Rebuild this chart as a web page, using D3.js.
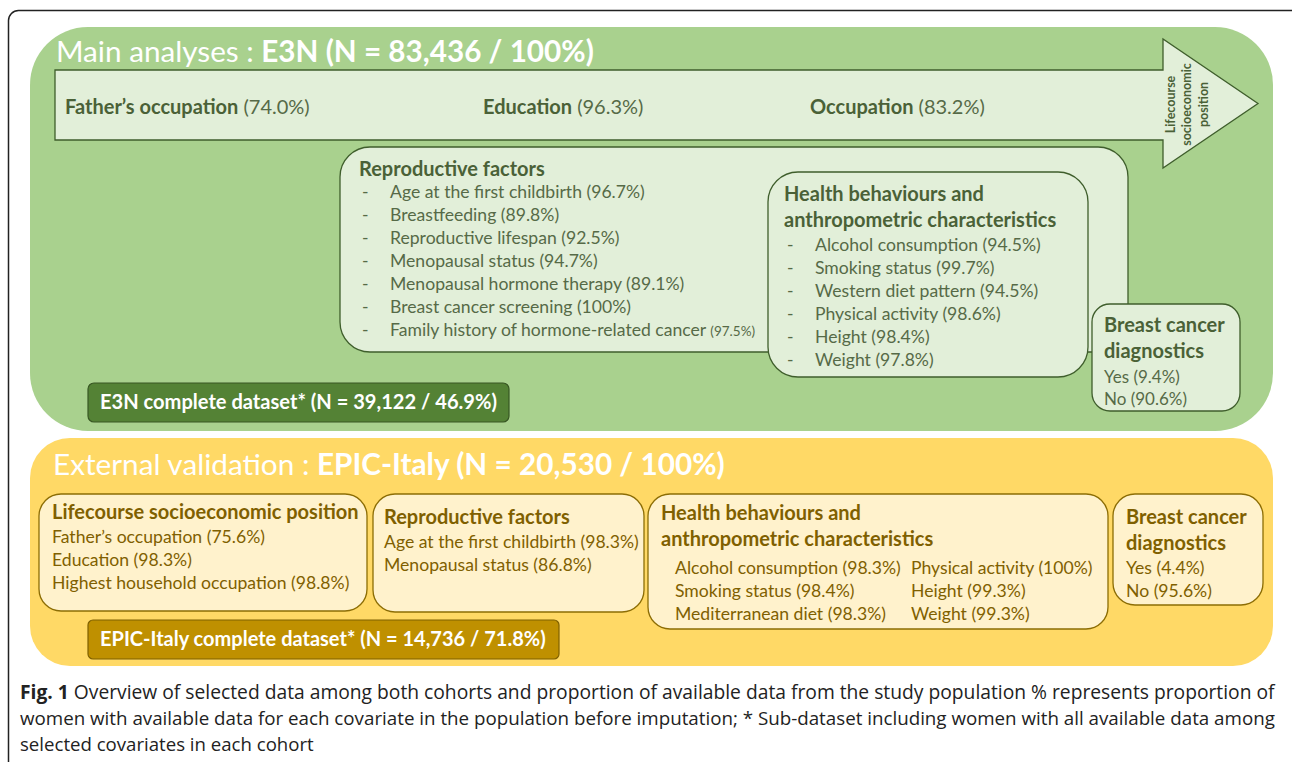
<!DOCTYPE html>
<html><head><meta charset="utf-8">
<script src="https://cdn.jsdelivr.net/npm/d3@7"></script>
<style>body{margin:0;background:#fff}svg{display:block}</style>
</head><body>
<script>
// ---------- DATA ----------
const e3nTitle = ["Main analyses : ", "E3N (N = 83,436 / 100%)"];
const e3nSepLabels = ["Father’s occupation", "Education", "Occupation"];
const e3nSepValues = [74.0, 96.3, 83.2];
const arrowLabel = ["Lifecourse", "socioeconomic", "position"];
const e3nReproLabels = ["Age at the first childbirth", "Breastfeeding", "Reproductive lifespan", "Menopausal status", "Menopausal hormone therapy", "Breast cancer screening", "Family history of hormone-related cancer"];
const e3nReproValues = [96.7, 89.8, 92.5, 94.7, 89.1, 100, 97.5];
const e3nHealthLabels = ["Alcohol consumption", "Smoking status", "Western diet pattern", "Physical activity", "Height", "Weight"];
const e3nHealthValues = [94.5, 99.7, 94.5, 98.6, 98.4, 97.8];
const diagLabels = ["Yes", "No"];
const e3nDiagValues = [9.4, 90.6];
const e3nComplete = "E3N complete dataset* (N = 39,122 / 46.9%)";

const itTitle = ["External validation : ", "EPIC-Italy (N = 20,530 / 100%)"];
const itSepLabels = ["Father’s occupation", "Education", "Highest household occupation"];
const itSepValues = [75.6, 98.3, 98.8];
const itReproLabels = ["Age at the first childbirth", "Menopausal status"];
const itReproValues = [98.3, 86.8];
const itHealthLabels = ["Alcohol consumption", "Smoking status", "Mediterranean diet", "Physical activity", "Height", "Weight"];
const itHealthValues = [98.3, 98.4, 98.3, 100, 99.3, 99.3];
const itDiagValues = [4.4, 95.6];
const itComplete = "EPIC-Italy complete dataset* (N = 14,736 / 71.8%)";

const captionBold = "Fig. 1";
const captionLines = [
  " Overview of selected data among both cohorts and proportion of available data from the study population % represents proportion of",
  "women with available data for each covariate in the population before imputation; * Sub-dataset including women with all available data among",
  "selected covariates in each cohort"
];

// ---------- HELPERS ----------
const pct = v => "(" + (v === 100 ? "100" : d3.format(".1f")(v)) + "%)";
const FONT = "Lato, 'Open Sans', sans-serif";
const W = 1292, H = 762;
const svg = d3.select("body").append("svg").attr("width", W).attr("height", H)
  .style("font-family", FONT);

const G = {panel:"#A9D18E", box:"#E2EFD9", line:"#3F5E2C", text:"#4A6137", item:"#566A47", dark:"#548235"};
const Y = {panel:"#FFD966", box:"#FFF2CC", line:"#8C6D05", text:"#7F6000", item:"#7F6000", dark:"#BF9000"};
const TS = 20, IS = 17.6;

function fit(t, w) {
  const len = t.node().getComputedTextLength();
  const fs = parseFloat(t.attr("font-size"));
  t.attr("font-size", fs * w / len);
}
function box(x, y, w, h, r, c) {
  svg.append("rect").attr("x", x).attr("y", y).attr("width", w).attr("height", h)
    .attr("rx", r).attr("ry", r).attr("fill", c.box).attr("stroke", c.line).attr("stroke-width", 1.3);
}
function txt(x, y, s, size, color, weight) {
  return svg.append("text").attr("x", x).attr("y", y).attr("font-size", size)
    .attr("fill", color).attr("font-weight", weight || 400).text(s);
}

// outer frame
svg.append("rect").attr("x", 8.5).attr("y", 10.5).attr("width", 1300).attr("height", 800)
  .attr("rx", 10).attr("fill", "#fff").attr("stroke", "#222").attr("stroke-width", 1.5);

// ---------- E3N PANEL ----------
svg.append("rect").attr("x", 30).attr("y", 27).attr("width", 1243).attr("height", 404)
  .attr("rx", 58).attr("fill", G.panel);

const t1 = svg.append("text").attr("x", 56).attr("y", 62).attr("font-size", 30).attr("fill", "#fff");
t1.append("tspan").text(e3nTitle[0]);
t1.append("tspan").attr("font-weight", 700).text(e3nTitle[1]);
fit(t1, 538);

// arrow
const ax0 = 55, ax1 = 1163, ay0 = 70, ay1 = 140, ahTop = 39, ahBot = 168, tip = 1258;
svg.append("path")
  .attr("d", d3.line()([[ax0, ay0], [ax1, ay0], [ax1, ahTop], [tip, (ahTop + ahBot) / 2], [ax1, ahBot], [ax1, ay1], [ax0, ay1]]) + "Z")
  .attr("fill", G.box).attr("stroke", G.line).attr("stroke-width", 1.3);
const sepX = [65, 483, 810];
e3nSepLabels.forEach((l, i) => {
  const t = svg.append("text").attr("x", sepX[i]).attr("y", 114).attr("font-size", 20).attr("fill", G.text);
  t.append("tspan").attr("font-weight", 700).text(l);
  t.append("tspan").attr("fill", G.item).text(" " + pct(e3nSepValues[i]));
});
const al = svg.append("text").attr("transform", "translate(1187,104.5) rotate(-90)")
  .attr("text-anchor", "middle").attr("font-size", 12.5).attr("font-weight", 700).attr("fill", G.text);
arrowLabel.forEach((l, i) => al.append("tspan").attr("x", 0).attr("y", (i - 1) * 16.5 + 4.3).text(l));

// reproductive box
box(340, 147, 788, 205, 30, G);
txt(359, 176, "Reproductive factors", TS, G.text, 700);
const ly = d3.scaleLinear().domain([0, 1]).range([198, 221]);
e3nReproLabels.forEach((l, i) => {
  txt(362, ly(i), "-", IS, G.item);
  const t = svg.append("text").attr("x", 390).attr("y", ly(i)).attr("font-size", IS).attr("fill", G.item);
  t.append("tspan").text(l + " ");
  t.append("tspan").attr("font-size", i === e3nReproLabels.length - 1 ? 13.5 : IS).text(pct(e3nReproValues[i]));
});

// health box
box(768, 172, 320, 205, 30, G);
txt(784, 201, "Health behaviours and", TS, G.text, 700);
txt(784, 227, "anthropometric characteristics", TS, G.text, 700);
const hy = d3.scaleLinear().domain([0, 1]).range([251, 274]);
e3nHealthLabels.forEach((l, i) => {
  txt(787, hy(i), "-", IS, G.item);
  txt(815, hy(i), l + " " + pct(e3nHealthValues[i]), IS, G.item);
});

// diagnostics box
box(1092, 304, 148, 107, 18, G);
txt(1104, 332, "Breast cancer", TS, G.text, 700);
txt(1104, 358, "diagnostics", TS, G.text, 700);
diagLabels.forEach((l, i) => txt(1104, 383 + i * 22, l + " " + pct(e3nDiagValues[i]), 17, G.item));

// complete button
svg.append("rect").attr("x", 88).attr("y", 383).attr("width", 421).attr("height", 39).attr("rx", 6)
  .attr("fill", G.dark).attr("stroke", "#385723").attr("stroke-width", 1.2);
const b1 = txt(100, 409, e3nComplete, 16.5, "#fff", 700);
fit(b1, 397);

// ---------- EPIC-ITALY PANEL ----------
svg.append("rect").attr("x", 30).attr("y", 438).attr("width", 1243).attr("height", 228)
  .attr("rx", 40).attr("fill", Y.panel);
const t2 = svg.append("text").attr("x", 53).attr("y", 475).attr("font-size", 28).attr("fill", "#fff");
t2.append("tspan").text(itTitle[0]);
t2.append("tspan").attr("font-weight", 700).text(itTitle[1]);
fit(t2, 672);

// LSEP
box(39, 494, 328, 117, 22, Y);
txt(52, 519, "Lifecourse socioeconomic position", TS, Y.text, 700);
itSepLabels.forEach((l, i) => txt(52, 543 + i * 23, l + " " + pct(itSepValues[i]), IS, Y.item));

// repro
box(373, 494, 271, 118, 22, Y);
txt(384, 524, "Reproductive factors", TS, Y.text, 700);
itReproLabels.forEach((l, i) => txt(384, 548 + i * 23, l + " " + pct(itReproValues[i]), IS, Y.item));

// health
box(648, 494, 460, 135, 22, Y);
txt(661, 520, "Health behaviours and", TS, Y.text, 700);
txt(661, 546, "anthropometric characteristics", TS, Y.text, 700);
itHealthLabels.forEach((l, i) => {
  const col = Math.floor(i / 3), row = i % 3;
  txt(col ? 911 : 675, 574 + row * 23, l + " " + pct(itHealthValues[i]), IS, Y.item);
});

// diag
box(1113, 494, 150, 111, 22, Y);
txt(1126, 524, "Breast cancer", TS, Y.text, 700);
txt(1126, 550, "diagnostics", TS, Y.text, 700);
diagLabels.forEach((l, i) => txt(1126, 574 + i * 23, l + " " + pct(itDiagValues[i]), IS, Y.item));

// complete button
svg.append("rect").attr("x", 88).attr("y", 620).attr("width", 471).attr("height", 39).attr("rx", 5)
  .attr("fill", Y.dark).attr("stroke", "#7F6000").attr("stroke-width", 1.2);
const b2 = txt(100, 646, itComplete, 17, "#fff", 700);
fit(b2, 446);

// ---------- CAPTION ----------
const capW = [1255, 1255, 294];
captionLines.forEach((l, i) => {
  const t = svg.append("text").attr("x", 20).attr("y", 699 + i * 26).attr("font-size", 17)
    .attr("fill", "#222").style("font-family", "'Liberation Sans Narrow', 'Open Sans', sans-serif");
  if (i === 0) t.append("tspan").attr("font-weight", 700).text(captionBold);
  t.append("tspan").text(l);
  fit(t, capW[i]);
});
</script>
</body></html>
